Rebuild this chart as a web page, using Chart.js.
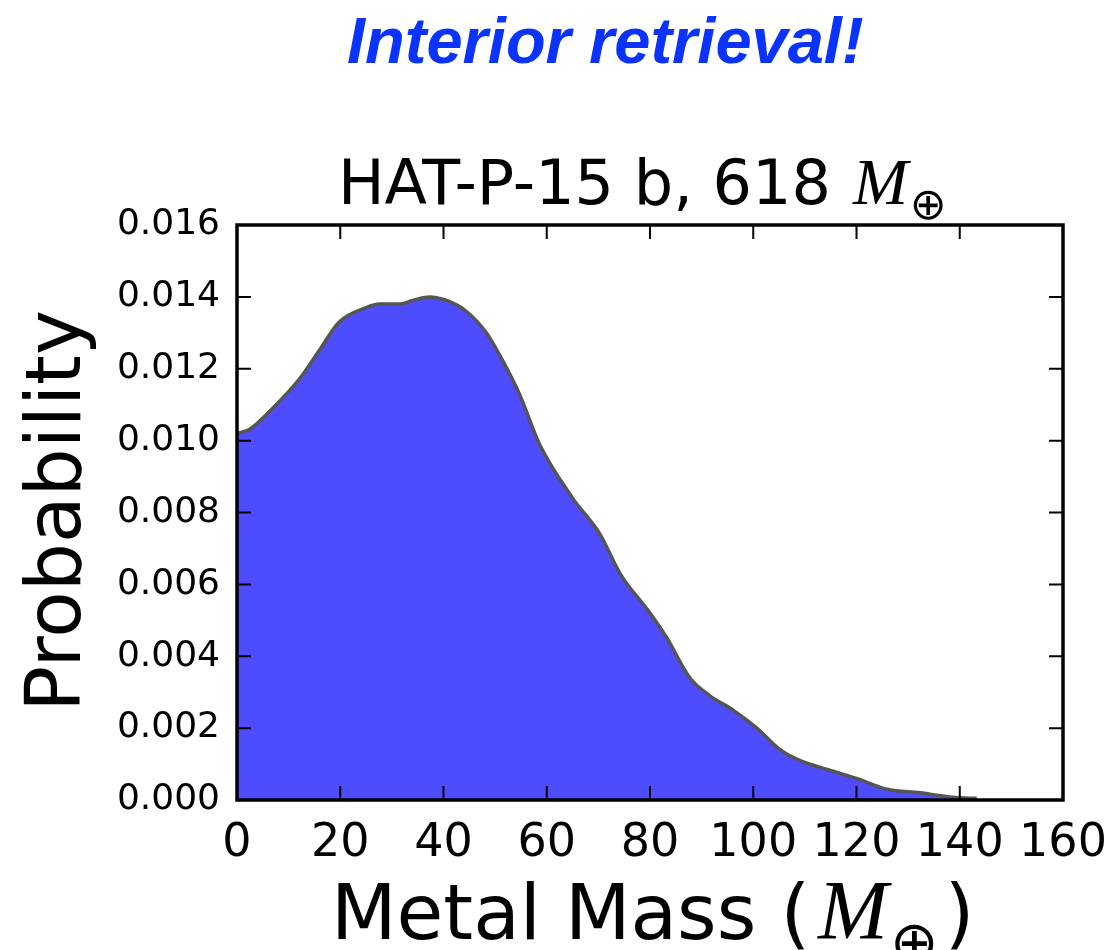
<!DOCTYPE html>
<html>
<head>
<meta charset="utf-8">
<script src="https://cdn.jsdelivr.net/npm/chart.js@4/dist/chart.umd.min.js"></script>
<style>
  body { margin: 0; background: #fff; }
  #wrap { width: 1110px; height: 950px; }
</style>
</head>
<body>
<div id="wrap"><canvas id="chart--kde" width="1110" height="950"></canvas></div>
<script>
// metal mass (M_earth) and probability density
const massValues = [0, 2.3, 6.2, 12.0, 15.9, 19.8, 25.0, 27.6, 31.5, 34.0, 37.3, 40.6, 44.4, 48.3,
    50.8, 54.7, 58.6, 65.0, 70.3, 74.2, 80.0, 83.3, 87.7, 91.6, 96.1, 100.7, 105.2, 109.0,
    115.5, 120.0, 125.9, 132.3, 140.0, 143.3];
const probValues = [0.0102, 0.0103, 0.0108, 0.0117, 0.0125, 0.0133, 0.0137, 0.0138, 0.0138, 0.0139,
    0.0140, 0.0139, 0.0136, 0.0130, 0.0124, 0.0113, 0.0099, 0.0084, 0.0074, 0.0063, 0.0052,
    0.0045, 0.0034, 0.0029, 0.0025, 0.0020, 0.0014, 0.0011, 0.0008, 0.0006, 0.0003, 0.0002,
    0.00006, 0.00005];
const xTicks = [0, 20, 40, 60, 80, 100, 120, 140, 160];
const yTicks = [0, 0.002, 0.004, 0.006, 0.008, 0.010, 0.012, 0.014, 0.016];

const points = massValues.map((m, i) => ({ x: m, y: probValues[i] }));

// frame, inward ticks and the text around the plot
const decor = {
    id: 'decor',
    afterDraw(chart) {
        const ctx = chart.ctx;
        const a = chart.chartArea;
        const sx = chart.scales.x, sy = chart.scales.y;
        ctx.save();
        ctx.strokeStyle = '#000';
        ctx.lineWidth = 2;
        xTicks.forEach(v => {
            const px = sx.getPixelForValue(v);
            ctx.beginPath();
            ctx.moveTo(px, a.bottom); ctx.lineTo(px, a.bottom - 14);
            ctx.moveTo(px, a.top); ctx.lineTo(px, a.top + 14);
            ctx.stroke();
        });
        yTicks.forEach(v => {
            const py = sy.getPixelForValue(v);
            ctx.beginPath();
            ctx.moveTo(a.left, py); ctx.lineTo(a.left + 14, py);
            ctx.moveTo(a.right, py); ctx.lineTo(a.right - 14, py);
            ctx.stroke();
        });
        ctx.lineWidth = 3.5;
        ctx.strokeRect(a.left, a.top, a.right - a.left, a.bottom - a.top);

        ctx.textBaseline = 'alphabetic';
        ctx.textAlign = 'left';

        // headline
        ctx.fillStyle = '#0a33ff';
        ctx.font = 'italic bold 65px "Liberation Sans"';
        ctx.fillText('Interior retrieval!', 347, 63);

        // panel title
        ctx.fillStyle = '#000';
        let x = 338;
        ctx.font = '62px "DejaVu Sans"';
        ctx.fillText('HAT-P-15 b, 618', x, 204);
        x += ctx.measureText('HAT-P-15 b, 618').width + 22;
        ctx.font = 'italic 66px "Liberation Serif"';
        ctx.fillText('M', x, 204);
        x += ctx.measureText('M').width + 2;
        ctx.font = '44px "DejaVu Sans"';
        ctx.fillText('\u2295', x, 219);

        // x axis title
        x = 331;
        ctx.font = '76px "DejaVu Sans"';
        ctx.fillText('Metal Mass (', x, 939);
        x += ctx.measureText('Metal Mass (').width + 8;
        ctx.font = 'italic 84px "Liberation Serif"';
        ctx.fillText('M', x, 939);
        x += ctx.measureText('M').width + 2;
        ctx.font = '58px "DejaVu Sans"';
        ctx.fillText('\u2295', x, 962);
        x += ctx.measureText('\u2295').width + 6;
        ctx.font = '76px "DejaVu Sans"';
        ctx.fillText(')', x, 939);

        // y axis title
        ctx.translate(80, 511);
        ctx.rotate(-Math.PI / 2);
        ctx.textAlign = 'center';
        ctx.font = '76px "DejaVu Sans"';
        ctx.fillText('Probability', 0, 0);
        ctx.restore();
    }
};

const config_kde = {
    type: 'line',
    data: {
        datasets: [{
            data: points,
            backgroundColor: '#4d4dff',
            borderColor: '#555555',
            borderWidth: 3.5,
            fill: 'origin',
            pointRadius: 0,
            cubicInterpolationMode: 'monotone'
        }]
    },
    options: {
        responsive: false,
        animation: false,
        devicePixelRatio: 1,
        layout: { padding: { top: 225, right: 47, left: 0, bottom: 0 } },
        plugins: { legend: { display: false }, tooltip: { enabled: false } },
        scales: {
            x: {
                type: 'linear',
                min: 0, max: 160,
                grid: { display: false },
                border: { display: false },
                afterFit: s => { s.height = 150; s.paddingRight = 0; s.paddingLeft = 0; },
                afterBuildTicks: s => { s.ticks = xTicks.map(v => ({ value: v })); },
                ticks: {
                    color: '#000',
                    padding: 8,
                    maxRotation: 0,
                    font: { family: 'DejaVu Sans', size: 46 }
                }
            },
            y: {
                min: 0, max: 0.016,
                grid: { display: false },
                border: { display: false },
                afterFit: s => { s.width = 237; s.paddingTop = 0; s.paddingBottom = 0; },
                afterBuildTicks: s => { s.ticks = yTicks.map(v => ({ value: v })); },
                ticks: {
                    color: '#000',
                    padding: 9,
                    font: { family: 'DejaVu Sans', size: 36 },
                    callback: v => v.toFixed(3)
                }
            }
        }
    },
    plugins: [decor]
};

var chartkde = new Chart(document.getElementById('chart--kde'), config_kde);
</script>
</body>
</html>
